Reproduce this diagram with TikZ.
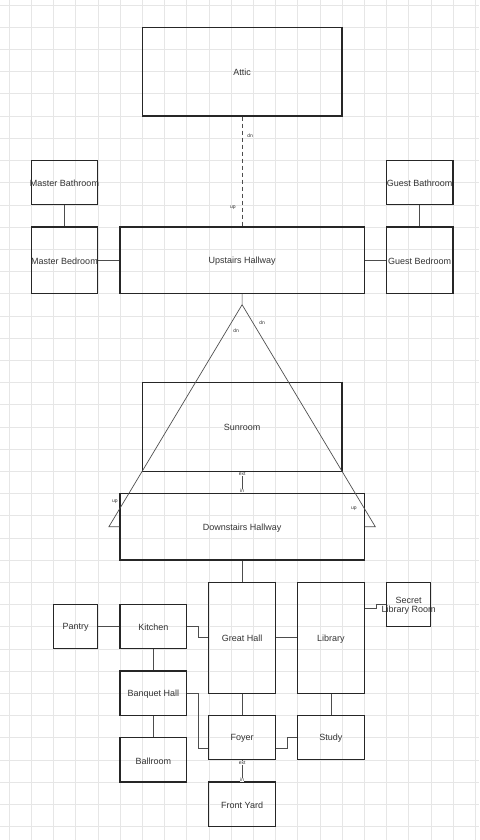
\documentclass[tikz,border=0pt]{standalone}
\usepackage{fontspec}
\setmainfont{Liberation Sans}
\usetikzlibrary{calc}
\definecolor{gridc}{HTML}{E6E6E6}
\definecolor{boxc}{HTML}{262626}
\definecolor{linkc}{HTML}{4D4D4D}
\definecolor{txtc}{HTML}{333333}
\begin{document}
\begin{tikzpicture}[x=22.2pt,y=-22.2pt,
  roomname/.style={inner sep=0pt, text=txtc, font=\fontsize{9}{9}\selectfont,
    align=center, yshift=-1pt},
  room/.style n args={3}{draw=boxc, line width=1.1pt,
    minimum width=#1*22.2pt, minimum height=#2*22.2pt, inner sep=0pt,
    label={[roomname]center:#3}},
  link/.style={draw=linkc, line width=0.7pt},
  stairs/.style={link, dash pattern=on 4pt off 3pt},
  edgetag/.style={font=\fontsize{5}{5}\selectfont, text=txtc, inner sep=0.3pt},
  doortag/.style={edgetag, fill=white},
  gridline/.style={draw=gridc, line width=0.6pt}]

% canvas and background grid
\useasboundingbox (-9pt,5pt) rectangle (470pt,-835pt);
\fill[white] (-9pt,5pt) rectangle (470pt,-835pt);
\foreach \c in {0,...,21} \draw[gridline] (\c,-0.23) -- (\c,37.62);
\foreach \r in {0,...,37} \draw[gridline] (-0.41,\r) -- (21.18,\r);

% upper floor
\node[room={9}{4}{Attic}] (attic) at (10.5,3) {};
\node[room={3}{2}{Master Bathroom}] (mbath) at (2.5,8) {};
\node[room={3}{2}{Guest Bathroom}] (gbath) at (18.5,8) {};
\node[room={3}{3}{Master Bedroom}] (mbed) at (2.5,11.5) {};
\node[room={11}{3}{Upstairs Hallway}] (upstairs) at (10.5,11.5) {};
\node[room={3}{3}{Guest Bedroom}] (gbed) at (18.5,11.5) {};

% ground floor
\node[room={9}{4}{Sunroom}] (sunroom) at (10.5,19) {};
\node[room={11}{3}{Downstairs Hallway}] (downstairs) at (10.5,23.5) {};
\node[room={3}{5}{Great Hall}] (greathall) at (10.5,28.5) {};
\node[room={3}{5}{Library}] (library) at (14.5,28.5) {};
\node[room={2}{2}{Secret\\Library Room}] (secret) at (18,27) {};
\node[room={2}{2}{Pantry}] (pantry) at (3,28) {};
\node[room={3}{2}{Kitchen}] (kitchen) at (6.5,28) {};
\node[room={3}{2}{Banquet Hall}] (banquet) at (6.5,31) {};
\node[room={3}{2}{Ballroom}] (ballroom) at (6.5,34) {};
\node[room={3}{2}{Foyer}] (foyer) at (10.5,33) {};
\node[room={3}{2}{Study}] (study) at (14.5,33) {};
\node[room={3}{2}{Front Yard}] (frontyard) at (10.5,36) {};

% attic stairs
\draw[stairs] (attic.south) -- (upstairs.north);
\node[edgetag] (atticdn) at (10.86,5.9) {dn};
\node[edgetag] (atticup) at (10.09,9.14) {up};

% upstairs doors
\draw[link] (mbath.south) -- (mbed.north);
\draw[link] (mbed.east) -- (upstairs.west);
\draw[link] (gbath.south) -- (gbed.north);
\draw[link] (upstairs.east) -- (gbed.west);

% main staircase, two flights
\coordinate (apex) at (10.5,13.5);
\coordinate (leftfoot) at (4.5,23.5);
\coordinate (rightfoot) at (16.5,23.5);
\draw[link] (upstairs.south) -- (apex) -- (leftfoot) -- (downstairs.west);
\draw[link] (apex) -- (rightfoot) -- (downstairs.east);
\node[edgetag] (leftdn) at (10.23,14.68) {dn};
\node[edgetag] (rightdn) at (11.4,14.32) {dn};
\node[edgetag] (leftup) at (4.77,22.39) {up};
\node[edgetag] (rightup) at (15.54,22.7) {up};

% sunroom door
\draw[link] (sunroom.south) -- (downstairs.north);
\node[doortag] (sunext) at (10.5,21.13) {ext};
\node[doortag] (sunin) at (10.5,21.9) {in};

% ground floor doors
\draw[link] (downstairs.south) -- (greathall.north);
\draw[link] (greathall.east) -- (library.west);
\draw[link] (greathall.south) -- (foyer.north);
\draw[link] (library.south) -- (study.north);
\draw[link] ($(library.east)+(0,-1.3)$) -- ++(0.5,0) |- (secret.west);
\draw[link] (pantry.east) -- (kitchen.west);
\draw[link] (kitchen.east) -- ++(0.5,0) |- (greathall.west);
\draw[link] (kitchen.south) -- (banquet.north);
\draw[link] (banquet.south) -- (ballroom.north);
\draw[link] (banquet.east) -- ++(0.5,0) |- ($(foyer.west)+(0,0.5)$);
\draw[link] ($(foyer.east)+(0,0.5)$) -- ++(0.5,0) |- (study.west);

% front door
\draw[link] (foyer.south) -- (frontyard.north);
\node[doortag] (frontext) at (10.5,34.14) {ext};
\node[doortag] (frontin) at (10.5,34.9) {in};
\end{tikzpicture}
\end{document}
